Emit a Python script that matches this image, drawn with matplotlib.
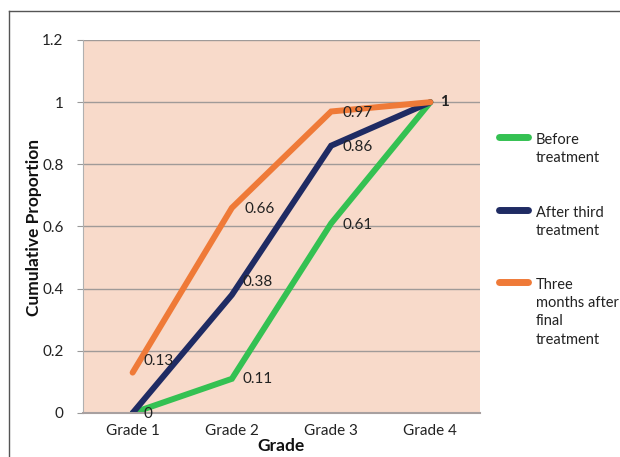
import matplotlib
matplotlib.use("Agg")
import matplotlib.pyplot as plt
from matplotlib.lines import Line2D

plt.rcParams["font.family"] = ["Lato", "DejaVu Sans"]

grades = ["Grade 1", "Grade 2", "Grade 3", "Grade 4"]
before = [0, 0.11, 0.61, 1]
after_third = [0, 0.38, 0.86, 1]
three_months = [0.13, 0.66, 0.97, 1]
series_names = ["Before\ntreatment", "After third\ntreatment", "Three\nmonths after\nfinal\ntreatment"]

# etiquettes de valeurs affichées (série, index, décalage en points)
labels_shown = [
    (three_months, 0, (8, 8)),
    (before, 0, (8, -1)),
    (before, 1, (8, 0)),
    (three_months, 1, (9, -1)),
    (after_third, 1, (8, 9)),
    (three_months, 2, (8, -1)),
    (after_third, 2, (8, -1)),
    (before, 2, (8, -1)),
    (three_months, 3, (7, 0)),
]

c_green = "#34C152"
c_navy = "#1F2B63"
c_orange = "#EF7A38"
colors = [c_green, c_navy, c_orange]

fig = plt.figure(figsize=(6.2, 4.57), dpi=100)
ax = fig.add_axes([83 / 620, 44 / 457, 397 / 620, 373 / 457])
ax.set_facecolor("#F8DACA")

x = range(len(grades))
for vals, col in zip([before, after_third, three_months], colors):
    ax.plot(x, vals, color=col, lw=4.3, solid_capstyle="round", solid_joinstyle="miter")

for vals, i, off in labels_shown:
    txt = f"{vals[i]:g}"
    ax.annotate(txt, (i, vals[i]), xytext=off, textcoords="offset points",
                fontsize=11, va="center", ha="left", color="#222222",
                fontweight="bold" if txt == "1" else "normal")

ax.set_xlim(-0.5, 3.5)
ax.set_ylim(0, 1.2)
ax.set_yticks([0, 0.2, 0.4, 0.6, 0.8, 1, 1.2])
ax.set_yticklabels(["0", "0.2", "0.4", "0.6", "0.8", "1", "1.2"])
ax.set_xticks(list(x))
ax.set_xticklabels(grades)
ax.yaxis.grid(True, color="#A09A98", lw=1)
ax.set_axisbelow(True)
ax.tick_params(axis="y", length=4, color="#999999", labelsize=11, pad=10, labelcolor="#222222")
ax.tick_params(axis="x", length=0, labelsize=11, pad=8, labelcolor="#222222")
for s in ["top", "right"]:
    ax.spines[s].set_visible(False)
ax.spines["bottom"].set_color("#A8A0A0")
ax.spines["bottom"].set_linewidth(1.5)
ax.spines["left"].set_color("#B0B0B0")

fig.text(281 / 620, 1 - 446 / 457, "Grade", fontsize=12.5, fontweight="bold",
         ha="center", va="center", color="#111111")
fig.text(34 / 620, 1 - 228 / 457, "Cumulative Proportion", fontsize=12.5,
         fontweight="bold", rotation=90, ha="center", va="center", color="#111111")

# légende faite à la main (style Excel : trait aligné sur la première ligne)
leg_y = [137, 210, 282]
for name, col, y in zip(series_names, colors, leg_y):
    fig.add_artist(Line2D([499 / 620, 528 / 620], [1 - y / 457, 1 - y / 457], color=col,
                          lw=5, solid_capstyle="round", transform=fig.transFigure))
    fig.text(536 / 620, 1 - (y - 4) / 457, name, fontsize=10.5, ha="left", va="top",
             linespacing=1.38, color="#222222")

# cadre extérieur
fig.add_artist(Line2D([9 / 620, 1], [1 - 11 / 457, 1 - 11 / 457], color="#555555", lw=1,
                      transform=fig.transFigure))
fig.add_artist(Line2D([9 / 620, 9 / 620], [0, 1 - 11 / 457], color="#555555", lw=1,
                      transform=fig.transFigure))

fig.savefig("out.png", dpi=100)
